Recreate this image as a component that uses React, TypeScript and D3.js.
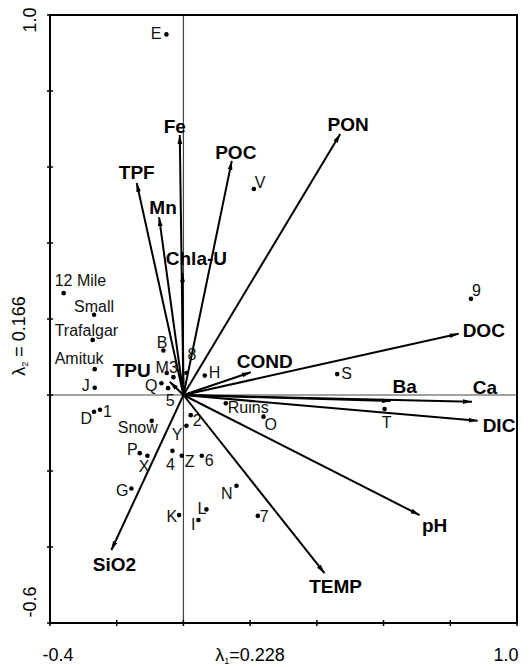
import React from 'react';
import * as d3 from 'd3';

// site scores (axis 1, axis 2)
const sites = ['E', 'V', '12 Mile', 'Small', 'Trafalgar', 'Amituk', 'J', 'D', '1', 'B', 'M', '3', '8', 'H', 'Q', '5',
  'Ruins', 'O', '2', 'Y', 'Snow', 'P', 'X', '4', 'Z', '6', 'G', 'N', 'K', 'L', 'I', '7', 'S', '9', 'T'];
const siteAx1 = [-0.051, 0.211, -0.359, -0.268, -0.272, -0.266, -0.266, -0.268, -0.250, -0.060, -0.050, -0.030, 0.009, 0.064, -0.066, -0.046,
  0.127, 0.240, 0.022, 0.009, -0.095, -0.131, -0.108, -0.033, -0.005, 0.055, -0.156, 0.159, -0.013, 0.069, 0.045, 0.223, 0.461, 0.862, 0.603];
const siteAx2 = [0.949, 0.542, 0.268, 0.211, 0.145, 0.068, 0.019, -0.044, -0.039, 0.117, 0.058, 0.047, 0.058, 0.051, 0.031, 0.018,
  -0.022, -0.057, -0.053, -0.081, -0.068, -0.153, -0.160, -0.147, -0.160, -0.160, -0.246, -0.239, -0.316, -0.301, -0.329, -0.318, 0.055, 0.253, -0.037];

// environmental variable vectors
const variables = ['Fe', 'POC', 'TPF', 'Mn', 'Chla-U', 'PON', 'DOC', 'Ca', 'Ba', 'DIC', 'COND', 'TPU', 'SiO2', 'TEMP', 'pH'];
const varAx1 = [-0.011, 0.145, -0.140, -0.073, -0.003, 0.470, 0.825, 0.865, 0.621, 0.882, 0.202, -0.041, -0.216, 0.423, 0.708];
const varAx2 = [0.684, 0.616, 0.558, 0.468, 0.321, 0.687, 0.161, -0.018, -0.016, -0.068, 0.060, 0.035, -0.408, -0.469, -0.316];

const xDomain = [-0.4, 1.0];
const yDomain = [-0.6, 1.0];
const xEndLabels = ['-0.4', '1.0'];
const yEndLabels = ['1.0', '-0.6'];

// label placement: [anchor, dx, dy]
const siteLabelPos: Record<string, [string, number, number]> = {
  'E': ['end', -5, 5], 'V': ['start', 1, -1], '12 Mile': ['start', -9, -7], 'Small': ['start', -20, -3],
  'Trafalgar': ['start', -38, -4], 'Amituk': ['start', -40, -5], 'J': ['end', -5, 3], 'D': ['end', -2, 12],
  '1': ['start', 3, 7], 'B': ['end', 4, -3], 'M': ['end', 2, 0], '3': ['middle', 0, -4], '8': ['start', 1, -13],
  'H': ['start', 4, 2], 'Q': ['end', -4, 8], '5': ['middle', 2, 18], 'Ruins': ['start', 2, 10], 'O': ['start', 1, 13],
  '2': ['start', 2, 11], 'Y': ['end', -4, 14], 'Snow': ['end', 6, 12], 'P': ['end', -2, 2], 'X': ['end', 2, 16],
  '4': ['middle', -2, 19], 'Z': ['start', 3, 11], '6': ['start', 3, 10], 'G': ['end', -3, 8], 'N': ['end', -4, 13],
  'K': ['end', -2, 7], 'L': ['end', 0, 5], 'I': ['end', -3, 10], '7': ['start', 2, 6], 'S': ['start', 4, 5],
  '9': ['start', 1, -3], 'T': ['middle', 2, 19],
};
const varLabelPos: Record<string, [string, number, number]> = {
  'Fe': ['middle', -5, -2], 'POC': ['middle', 4, -2], 'TPF': ['middle', 0, -4], 'Mn': ['middle', 4, -3],
  'Chla-U': ['middle', 14, -8], 'PON': ['middle', 8, -3], 'DOC': ['start', 4, 3], 'Ca': ['middle', 13, -8],
  'Ba': ['middle', 14, -8], 'DIC': ['start', 5, 11], 'COND': ['middle', 14, -4], 'TPU': ['end', -19, -5],
  'SiO2': ['middle', 3, 21], 'TEMP': ['middle', 11, 20], 'pH': ['middle', 15, 17],
};

const W = 531;
const H = 667;
const FONT = '"Liberation Sans", Arial, Helvetica, sans-serif';

export default function App() {
  const left = 50, right = 517, top = 15, bottom = 623;
  const x = d3.scaleLinear().domain(xDomain).range([left, right]);
  const y = d3.scaleLinear().domain(yDomain).range([bottom, top]);
  const xTicks = d3.range(xDomain[0], xDomain[1] + 1e-9, 0.2);
  const yTicks = d3.range(yDomain[0], yDomain[1] + 1e-9, 0.2);
  const ox = x(0), oy = y(0);

  return (
    <svg width={W} height={H} style={{ position: 'absolute', left: 0, top: 0, background: '#fff' }} fontFamily={FONT}>
      <defs>
        <marker id="ah" markerUnits="userSpaceOnUse" markerWidth={10} markerHeight={6} refX={9} refY={3} orient="auto">
          <path d="M0,0.6 L9,3 L0,5.4 Z" fill="#000" />
        </marker>
      </defs>

      {/* zero lines */}
      <line x1={ox} x2={ox} y1={top} y2={bottom} stroke="#444" strokeWidth={1.2} />
      <line x1={left} x2={right} y1={oy} y2={oy} stroke="#444" strokeWidth={1.2} />

      {/* variable arrows */}
      {variables.map((v, i) => (
        <line key={v} x1={ox} y1={oy} x2={x(varAx1[i])} y2={y(varAx2[i])}
          stroke="#000" strokeWidth={2} markerEnd="url(#ah)" />
      ))}
      {variables.map((v, i) => {
        const [a, dx, dy] = varLabelPos[v];
        return (
          <text key={v} x={x(varAx1[i]) + dx} y={y(varAx2[i]) + dy} textAnchor={a}
            fontSize={19} fontWeight="bold" fill="#000">{v}</text>
        );
      })}

      {/* sites */}
      {sites.map((s, i) => (
        <circle key={s} cx={x(siteAx1[i])} cy={y(siteAx2[i])} r={2.3} fill="#000" />
      ))}
      {sites.map((s, i) => {
        const [a, dx, dy] = siteLabelPos[s];
        return (
          <text key={s} x={x(siteAx1[i]) + dx} y={y(siteAx2[i]) + dy} textAnchor={a}
            fontSize={16} fill="#111">{s}</text>
        );
      })}

      {/* frame */}
      <rect x={left} y={top} width={right - left} height={bottom - top} fill="none" stroke="#000" strokeWidth={2} />
      {xTicks.map((t, i) => (
        <line key={'xt' + i} x1={x(t)} x2={x(t)} y1={bottom - 3} y2={bottom + 3} stroke="#000" strokeWidth={1.5} />
      ))}
      {yTicks.map((t, i) => (
        <line key={'yt' + i} x1={left - 3} x2={left + 3} y1={y(t)} y2={y(t)} stroke="#000" strokeWidth={1.5} />
      ))}

      {/* end tick labels */}
      <text x={x(xDomain[0]) + 8} y={661} textAnchor="middle" fontSize={18}>{xEndLabels[0]}</text>
      <text x={x(xDomain[1]) - 11} y={661} textAnchor="middle" fontSize={18}>{xEndLabels[1]}</text>
      <text transform={`translate(36,${y(yDomain[1]) + 5}) rotate(-90)`} textAnchor="middle" fontSize={18}>{yEndLabels[0]}</text>
      <text transform={`translate(36,${y(yDomain[0]) - 21}) rotate(-90)`} textAnchor="middle" fontSize={18}>{yEndLabels[1]}</text>

      {/* axis titles */}
      <text x={250} y={661} textAnchor="middle" fontSize={18}>
        λ<tspan fontSize={9} dy={3}>1</tspan><tspan dy={-3}>=0.228</tspan>
      </text>
      <text transform="translate(25,336) rotate(-90)" textAnchor="middle" fontSize={18}>
        λ<tspan fontSize={9} dy={3}>2</tspan><tspan dy={-3}> = 0.166</tspan>
      </text>
    </svg>
  );
}
